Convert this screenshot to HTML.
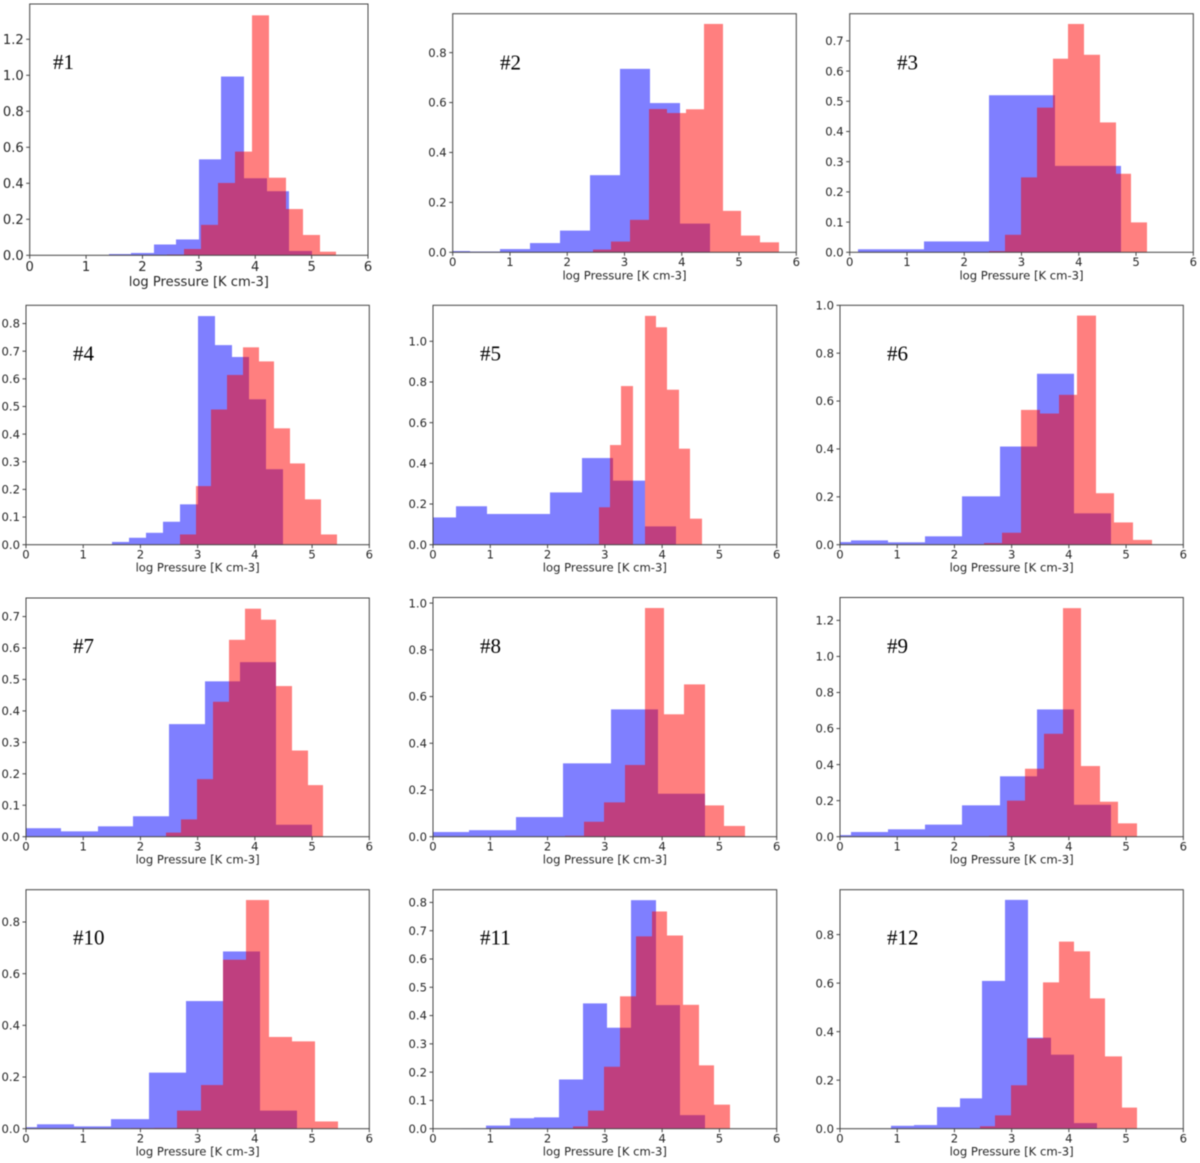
<!DOCTYPE html>
<html lang="en">
<head>
<meta charset="utf-8">
<title>log Pressure histograms</title>
<style>
  html, body { margin: 0; padding: 0; background: #fff; width: 1200px; height: 1163px; overflow: hidden; }
  #figure { display: block; filter: blur(0.4px); }
  .tick-text { font-family: "DejaVu Sans", "Liberation Sans", sans-serif; fill: #262626; }
  .panel-text { font-family: "Liberation Serif", serif; fill: #000; font-size: 21px; }
</style>
</head>
<body>
<svg id="figure" xmlns="http://www.w3.org/2000/svg" width="1200" height="1163" viewBox="0 0 1200 1163"></svg>
<script>
const xTicks = [0, 1, 2, 3, 4, 5, 6];
const xLabelText = "log Pressure [K cm-3]";
const panelTitles = ["#1","#2","#3","#4","#5","#6","#7","#8","#9","#10","#11","#12"];
const yLimits = [1.396, 0.956, 0.79, 0.866, 1.177, 1.0, 0.759, 1.024, 1.327, 0.925, 0.845, 0.985];

const p1YTicks = [0, 0.2, 0.4, 0.6, 0.8, 1.0, 1.2];
const p1BlueEdges = [1.4, 1.8, 2.2, 2.6, 3.0, 3.4, 3.8, 4.2, 4.6, 5.0];
const p1BlueValues = [0.007, 0.013, 0.06, 0.088, 0.533, 0.993, 0.428, 0.356, 0.024];
const p1RedEdges = [2.44, 2.74, 3.04, 3.34, 3.64, 3.94, 4.24, 4.54, 4.84, 5.14, 5.44];
const p1RedValues = [0.004, 0.035, 0.169, 0.402, 0.576, 1.333, 0.431, 0.257, 0.113, 0.02];

const p2YTicks = [0, 0.2, 0.4, 0.6, 0.8];
const p2BlueEdges = [0, 0.3, 0.825, 1.35, 1.875, 2.4, 2.925, 3.45, 3.975, 4.5];
const p2BlueValues = [0.005, 0.003, 0.013, 0.037, 0.087, 0.309, 0.735, 0.598, 0.115];
const p2RedEdges = [2.45, 2.77, 3.1, 3.42, 3.75, 4.07, 4.39, 4.72, 5.04, 5.37, 5.69];
const p2RedValues = [0.011, 0.043, 0.13, 0.574, 0.558, 0.573, 0.915, 0.166, 0.067, 0.04];

const p3YTicks = [0, 0.1, 0.2, 0.3, 0.4, 0.5, 0.6, 0.7];
const p3BlueEdges = [0.15, 1.29, 2.44, 3.59, 4.74];
const p3BlueValues = [0.01, 0.036, 0.52, 0.286];
const p3RedEdges = [2.44, 2.71, 2.99, 3.27, 3.55, 3.82, 4.1, 4.37, 4.65, 4.92, 5.19];
const p3RedValues = [0.004, 0.058, 0.248, 0.479, 0.641, 0.756, 0.654, 0.43, 0.26, 0.099];

const p4YTicks = [0, 0.1, 0.2, 0.3, 0.4, 0.5, 0.6, 0.7, 0.8];
const p4BlueEdges = [1.5, 1.8, 2.1, 2.4, 2.7, 3.0, 3.3, 3.6, 3.9, 4.2, 4.5];
const p4BlueValues = [0.01, 0.025, 0.043, 0.083, 0.146, 0.827, 0.722, 0.679, 0.526, 0.273];
const p4RedEdges = [2.7, 2.97, 3.24, 3.52, 3.8, 4.07, 4.34, 4.61, 4.88, 5.16, 5.44];
const p4RedValues = [0.037, 0.212, 0.489, 0.614, 0.714, 0.663, 0.421, 0.294, 0.164, 0.037];

const p5YTicks = [0, 0.2, 0.4, 0.6, 0.8, 1.0];
const p5BlueEdges = [0, 0.4, 0.94, 1.49, 2.04, 2.6, 3.14, 3.7, 4.24];
const p5BlueValues = [0.134, 0.189, 0.151, 0.151, 0.257, 0.426, 0.315, 0.09];
const p5RedEdges = [2.69, 2.89, 3.09, 3.29, 3.49, 3.7, 3.9, 4.09, 4.29, 4.49, 4.69];
const p5RedValues = [0.002, 0.184, 0.49, 0.78, 0, 1.125, 1.069, 0.762, 0.472, 0.128];

const p6YTicks = [0, 0.2, 0.4, 0.6, 0.8, 1.0];
const p6BlueEdges = [0, 0.19, 0.845, 1.49, 2.14, 2.8, 3.44, 4.09, 4.74];
const p6BlueValues = [0.011, 0.018, 0.01, 0.035, 0.202, 0.41, 0.714, 0.131];
const p6RedEdges = [2.2, 2.52, 2.84, 3.16, 3.49, 3.82, 4.14, 4.47, 4.79, 5.12, 5.45];
const p6RedValues = [0.001, 0.007, 0.05, 0.563, 0.548, 0.626, 0.957, 0.215, 0.093, 0.02];

const p7YTicks = [0, 0.1, 0.2, 0.3, 0.4, 0.5, 0.6, 0.7];
const p7BlueEdges = [0, 0.62, 1.25, 1.87, 2.5, 3.12, 3.74, 4.37, 5.0];
const p7BlueValues = [0.027, 0.017, 0.033, 0.065, 0.358, 0.494, 0.555, 0.038];
const p7RedEdges = [2.45, 2.71, 2.99, 3.26, 3.55, 3.83, 4.1, 4.37, 4.65, 4.92, 5.19];
const p7RedValues = [0.013, 0.055, 0.183, 0.429, 0.626, 0.725, 0.69, 0.479, 0.274, 0.164];

const p8YTicks = [0, 0.2, 0.4, 0.6, 0.8, 1.0];
const p8BlueEdges = [0, 0.62, 1.45, 2.27, 3.1, 3.92, 4.74];
const p8BlueValues = [0.02, 0.028, 0.084, 0.314, 0.545, 0.184];
const p8RedEdges = [1.96, 2.3, 2.64, 2.99, 3.35, 3.7, 4.04, 4.39, 4.74, 5.08, 5.44];
const p8RedValues = [0.001, 0.004, 0.064, 0.147, 0.307, 0.979, 0.524, 0.652, 0.134, 0.046];

const p9YTicks = [0, 0.2, 0.4, 0.6, 0.8, 1.0, 1.2];
const p9BlueEdges = [0, 0.19, 0.845, 1.49, 2.14, 2.8, 3.44, 4.09, 4.74];
const p9BlueValues = [0.009, 0.026, 0.041, 0.067, 0.174, 0.335, 0.706, 0.177];
const p9RedEdges = [1.95, 2.27, 2.6, 2.92, 3.24, 3.57, 3.89, 4.21, 4.54, 4.86, 5.19];
const p9RedValues = [0.002, 0.002, 0.005, 0.2, 0.377, 0.571, 1.268, 0.392, 0.194, 0.074];

const p10YTicks = [0, 0.2, 0.4, 0.6, 0.8];
const p10BlueEdges = [0, 0.19, 0.845, 1.49, 2.15, 2.8, 3.44, 4.09, 4.74];
const p10BlueValues = [0.006, 0.017, 0.009, 0.037, 0.217, 0.494, 0.686, 0.07];
const p10RedEdges = [1.84, 2.24, 2.64, 3.05, 3.44, 3.84, 4.25, 4.65, 5.05, 5.45];
const p10RedValues = [0.002, 0.003, 0.07, 0.169, 0.654, 0.885, 0.355, 0.338, 0.028];

const p11YTicks = [0, 0.1, 0.2, 0.3, 0.4, 0.5, 0.6, 0.7, 0.8];
const p11BlueEdges = [0.5, 0.93, 1.34, 1.77, 2.2, 2.62, 3.04, 3.46, 3.89, 4.31, 4.74];
const p11BlueValues = [0.001, 0.011, 0.037, 0.04, 0.174, 0.443, 0.357, 0.808, 0.437, 0.048];
const p11RedEdges = [2.44, 2.71, 2.99, 3.27, 3.55, 3.82, 4.09, 4.37, 4.64, 4.91, 5.19];
const p11RedValues = [0.008, 0.064, 0.219, 0.468, 0.68, 0.768, 0.683, 0.438, 0.224, 0.085];

const p12YTicks = [0, 0.2, 0.4, 0.6, 0.8];
const p12BlueEdges = [0.5, 0.9, 1.29, 1.69, 2.09, 2.49, 2.89, 3.29, 3.69, 4.09, 4.49];
const p12BlueValues = [0.001, 0.012, 0.015, 0.089, 0.125, 0.609, 0.943, 0.375, 0.305, 0.023];
const p12RedEdges = [2.44, 2.71, 2.99, 3.27, 3.55, 3.82, 4.09, 4.37, 4.64, 4.92, 5.19];
const p12RedValues = [0.01, 0.055, 0.179, 0.372, 0.603, 0.771, 0.731, 0.537, 0.298, 0.087];

const allYTicks = [p1YTicks, p2YTicks, p3YTicks, p4YTicks, p5YTicks, p6YTicks, p7YTicks, p8YTicks, p9YTicks, p10YTicks, p11YTicks, p12YTicks];
const allBlueEdges = [p1BlueEdges, p2BlueEdges, p3BlueEdges, p4BlueEdges, p5BlueEdges, p6BlueEdges, p7BlueEdges, p8BlueEdges, p9BlueEdges, p10BlueEdges, p11BlueEdges, p12BlueEdges];
const allBlueValues = [p1BlueValues, p2BlueValues, p3BlueValues, p4BlueValues, p5BlueValues, p6BlueValues, p7BlueValues, p8BlueValues, p9BlueValues, p10BlueValues, p11BlueValues, p12BlueValues];
const allRedEdges = [p1RedEdges, p2RedEdges, p3RedEdges, p4RedEdges, p5RedEdges, p6RedEdges, p7RedEdges, p8RedEdges, p9RedEdges, p10RedEdges, p11RedEdges, p12RedEdges];
const allRedValues = [p1RedValues, p2RedValues, p3RedValues, p4RedValues, p5RedValues, p6RedValues, p7RedValues, p8RedValues, p9RedValues, p10RedValues, p11RedValues, p12RedValues];

/* Layout of each subplot on the page (not data). */
const layout = [
  {l: 29.7,  r: 368,    t: 4,     b: 255.3,  fs: 13.1, tx: 53,  ty: 69},
  {l: 452.7, r: 796.3,  t: 13.7,  b: 252.3,  fs: 11.6, tx: 500, ty: 69.3},
  {l: 849.7, r: 1193.3, t: 13.7,  b: 252.3,  fs: 11.6, tx: 897, ty: 69.3},
  {l: 26,    r: 369.3,  t: 305.3, b: 544.7,  fs: 11.6, tx: 73,  ty: 360.7},
  {l: 433,   r: 776.7,  t: 305.3, b: 544.7,  fs: 11.6, tx: 480, ty: 360.7},
  {l: 840,   r: 1183.3, t: 305.3, b: 544.7,  fs: 11.6, tx: 887, ty: 360.7},
  {l: 26,    r: 369.3,  t: 598,   b: 836.7,  fs: 11.6, tx: 73,  ty: 653},
  {l: 433,   r: 776.7,  t: 597.5, b: 836.7,  fs: 11.6, tx: 480, ty: 653},
  {l: 840,   r: 1183.3, t: 597.5, b: 836.7,  fs: 11.6, tx: 887, ty: 653},
  {l: 26,    r: 369.3,  t: 889.7, b: 1128.7, fs: 11.6, tx: 73,  ty: 944.7},
  {l: 433,   r: 776.7,  t: 889.7, b: 1128.7, fs: 11.6, tx: 480, ty: 944.7},
  {l: 840,   r: 1183.3, t: 889.7, b: 1128.7, fs: 11.6, tx: 887, ty: 944.7}
];

const SVG_NS = "http://www.w3.org/2000/svg";
const figure = document.getElementById("figure");

function shape(parent, tag, attrs) {
  const node = document.createElementNS(SVG_NS, tag);
  for (const key in attrs) node.setAttribute(key, attrs[key]);
  parent.appendChild(node);
  return node;
}

function drawBars(group, edges, values, color, seriesName, xScale, yScale) {
  for (let i = 0; i < values.length; i++) {
    if (values[i] <= 0) continue;
    /* Snap bar sides to whole pixels so adjacent bars share an edge with no seam. */
    const left = Math.round(xScale(edges[i]));
    const right = Math.round(xScale(edges[i + 1]));
    const el = shape(group, "rect", {
      x: left,
      y: yScale(values[i]),
      width: right - left,
      height: yScale(0) - yScale(values[i]),
      fill: color,
      "fill-opacity": 0.5
    });
    
    
  }
}

function drawPanel(index) {
  const box = layout[index];
  const number = index + 1;
  const scaleFactor = box.fs / 11.6;
  const xScale = function (v) { return box.l + (v / 6) * (box.r - box.l); };
  const yScale = function (v) { return box.b - (v / yLimits[index]) * (box.b - box.t); };

  const panel = shape(figure, "g", {});
  
  

  const bars = shape(panel, "g", {});
  
  
  drawBars(bars, allBlueEdges[index], allBlueValues[index], "#0000ff", "blue", xScale, yScale);
  drawBars(bars, allRedEdges[index], allRedValues[index], "#ff0000", "red", xScale, yScale);

  const frame = shape(panel, "rect", {
    x: box.l, y: box.t, width: box.r - box.l, height: box.b - box.t,
    fill: "none", stroke: "#444", "stroke-width": 1
  });
  
  

  xTicks.forEach(function (tick) {
    const mark = shape(panel, "line", {
      x1: xScale(tick), x2: xScale(tick), y1: box.b, y2: box.b + 3.5,
      stroke: "#444", "stroke-width": 1
    });
    
    
    const label = shape(panel, "text", {
      x: xScale(tick), y: box.b + 13.7 * scaleFactor,
      "text-anchor": "middle", "font-size": box.fs, class: "tick-text"
    });
    label.textContent = String(tick);
    
    
  });

  allYTicks[index].forEach(function (tick) {
    const mark = shape(panel, "line", {
      x1: box.l - 3.5, x2: box.l, y1: yScale(tick), y2: yScale(tick),
      stroke: "#444", "stroke-width": 1
    });
    
    
    const label = shape(panel, "text", {
      x: box.l - 6, y: yScale(tick) + box.fs * 0.36,
      "text-anchor": "end", "font-size": box.fs, class: "tick-text"
    });
    label.textContent = tick.toFixed(1);
    
    
  });

  const xTitle = shape(panel, "text", {
    x: (box.l + box.r) / 2, y: box.b + 27 * scaleFactor,
    "text-anchor": "middle", "font-size": box.fs, class: "tick-text"
  });
  xTitle.textContent = xLabelText;
  
  

  const title = shape(panel, "text", { x: box.tx, y: box.ty, class: "panel-text" });
  title.textContent = panelTitles[index];
  
  
}

for (let i = 0; i < layout.length; i++) drawPanel(i);
</script>
</body>
</html>
